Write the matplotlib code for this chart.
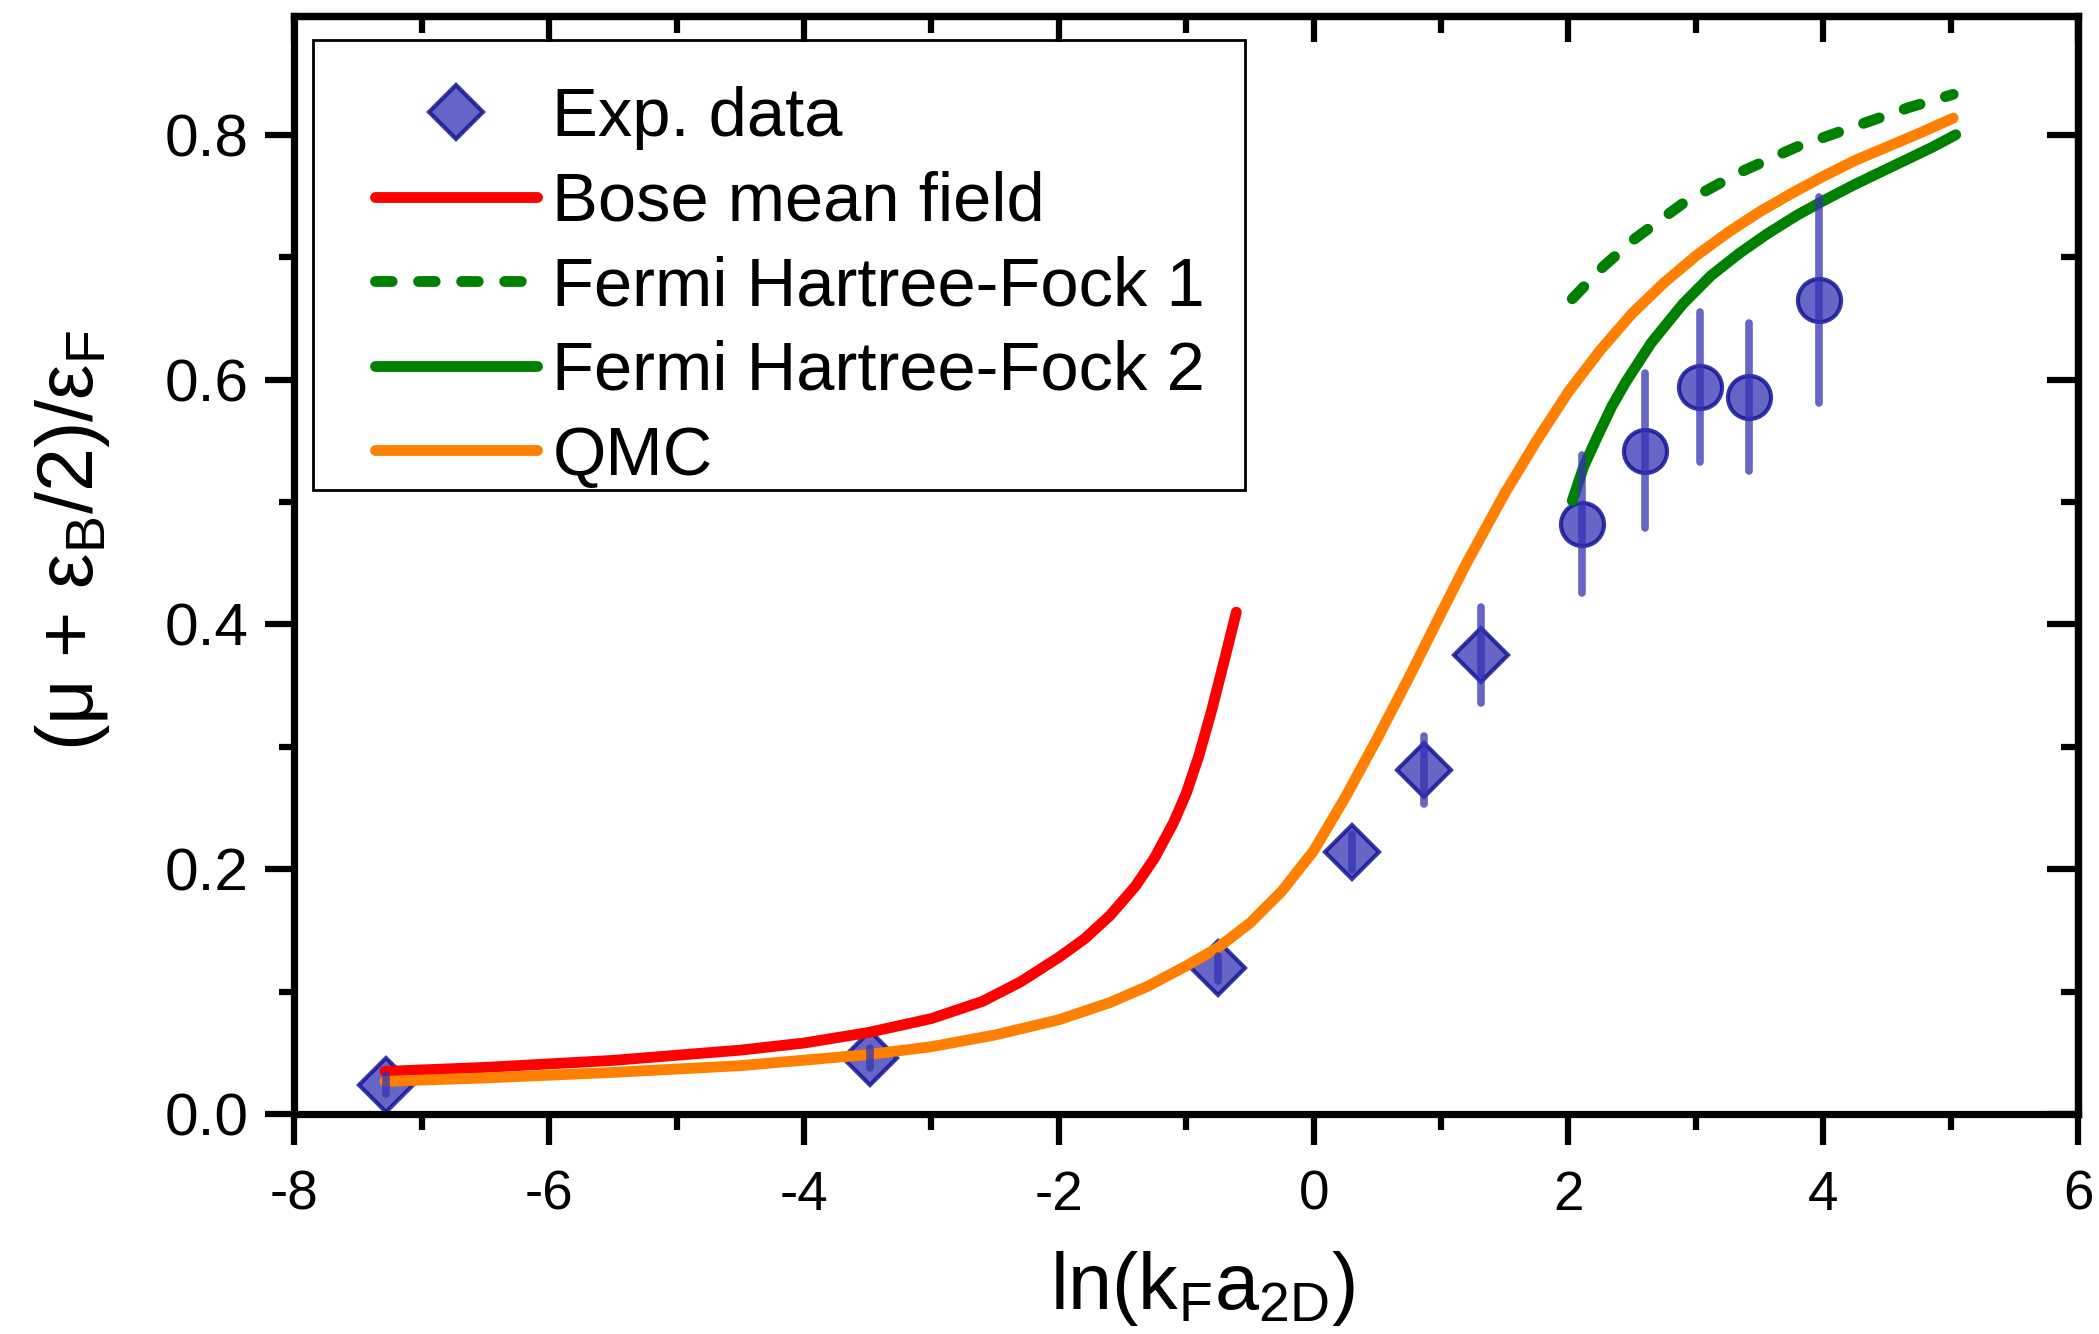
import matplotlib
matplotlib.use('Agg')
import matplotlib.pyplot as plt
from matplotlib.patches import Rectangle
from matplotlib.ticker import MultipleLocator

plt.rcParams['font.family'] = ['Liberation Sans', 'DejaVu Sans']
plt.rcParams['mathtext.fontset'] = 'custom'
plt.rcParams['mathtext.rm'] = 'Liberation Sans'
plt.rcParams['mathtext.it'] = 'Liberation Sans:italic'
plt.rcParams['mathtext.default'] = 'regular'
plt.rcParams['axes.unicode_minus'] = False
plt.rcParams['lines.scale_dashes'] = False

# ---------------- data ----------------
exp_diamond_x = [-7.28, -3.48, -0.75, 0.30, 0.87, 1.31]
exp_diamond_y = [0.024, 0.046, 0.119, 0.214, 0.281, 0.375]
exp_diamond_err = [0.008, 0.008, 0.010, 0.015, 0.028, 0.039]

exp_circle_x = [2.11, 2.60, 3.03, 3.42, 3.97]
exp_circle_y = [0.482, 0.542, 0.594, 0.586, 0.665]
exp_circle_err = [0.056, 0.0635, 0.0615, 0.0605, 0.084]

bose_x = [-7.29, -6.5, -5.5, -4.5, -4.0, -3.5, -3.0, -2.6, -2.3, -2.0,
          -1.8, -1.6, -1.4, -1.25, -1.1, -1.0, -0.9, -0.8, -0.7, -0.607]
bose_y = [0.0348, 0.0381, 0.0438, 0.0522, 0.058, 0.0665, 0.078, 0.092, 0.108, 0.128,
          0.143, 0.162, 0.186, 0.209, 0.238, 0.262, 0.293, 0.330, 0.371, 0.410]

qmc_x = [-7.29, -6.5, -5.5, -4.5, -3.5, -3.0, -2.5, -2.0, -1.6, -1.3,
         -1.0, -0.75, -0.5, -0.25, 0.0, 0.25, 0.5, 0.75, 1.0, 1.2,
         1.5, 1.75, 2.0, 2.25, 2.5, 2.75, 3.0, 3.25, 3.5, 3.75,
         4.0, 4.25, 4.5, 4.75, 5.02]
qmc_y = [0.0267, 0.0295, 0.0340, 0.0395, 0.0485, 0.055, 0.0646, 0.077, 0.091, 0.1045,
         0.121, 0.136, 0.156, 0.182, 0.215, 0.259, 0.307, 0.357, 0.409, 0.450,
         0.507, 0.550, 0.590, 0.624, 0.654, 0.679, 0.701, 0.720, 0.737, 0.752,
         0.766, 0.779, 0.790, 0.801, 0.8136]

hf1_x = [2.03, 2.27, 2.52, 2.90, 3.34, 3.79, 4.24, 4.68, 5.02]
hf1_y = [0.666, 0.692, 0.715, 0.744, 0.769, 0.790, 0.8065, 0.8225, 0.833]

hf2_x = [2.03, 2.12, 2.23, 2.34, 2.45, 2.65, 2.90, 3.12, 3.34, 3.56, 3.79, 4.0,
         4.24, 4.46, 4.68, 4.86, 5.04]
hf2_y = [0.501, 0.529, 0.554, 0.578, 0.598, 0.630, 0.662, 0.685, 0.703, 0.719, 0.734, 0.746,
         0.759, 0.770, 0.781, 0.790, 0.800]

x_ticks = [-8, -6, -4, -2, 0, 2, 4, 6]
y_ticks = [0.0, 0.2, 0.4, 0.6, 0.8]

# ---------------- figure ----------------
fig = plt.figure(figsize=(20.99, 13.34), dpi=100)
ax = fig.add_axes([0.1403, 0.1649, 0.8497, 0.8231])

face = (0.2, 0.2, 0.7, 0.75)
edge = (0.08, 0.08, 0.6, 0.85)

ax.plot(exp_diamond_x, exp_diamond_y, ls='none', marker='D', ms=27, mfc=face, mec=edge,
        mew=3, label='Exp. data', zorder=2)
ax.plot(exp_circle_x, exp_circle_y, ls='none', marker='o', ms=31, mfc=face, mec=edge,
        mew=3, zorder=2)

lw = 7.8
ax.plot(bose_x, bose_y, color='#ff0000', lw=lw, solid_capstyle='round',
        solid_joinstyle='round', label='Bose mean field', zorder=3)
ax.plot(hf1_x, hf1_y, color='#008000', lw=lw, ls=(0, (12, 19)), dash_capstyle='round',
        label='Fermi Hartree-Fock 1', zorder=3)
ax.plot(hf2_x, hf2_y, color='#008000', lw=lw, solid_capstyle='round',
        solid_joinstyle='round', label='Fermi Hartree-Fock 2', zorder=3)
ax.plot(qmc_x, qmc_y, color='#ff8000', lw=lw, solid_capstyle='round',
        solid_joinstyle='round', label='QMC', zorder=3)

for xs, ys, es in [(exp_diamond_x, exp_diamond_y, exp_diamond_err),
                   (exp_circle_x, exp_circle_y, exp_circle_err)]:
    eb = ax.errorbar(xs, ys, yerr=es, fmt='none', ecolor=face, elinewidth=5.5,
                     capsize=0, zorder=4)
    eb[2][0].set_capstyle('round')

ax.set_xlim(-8, 6)
ax.set_ylim(0, 0.897)
ax.set_xticks(x_ticks)
ax.set_yticks(y_ticks)
ax.xaxis.set_minor_locator(MultipleLocator(1))
ax.yaxis.set_minor_locator(MultipleLocator(0.1))

for s in ax.spines.values():
    s.set_linewidth(5.2)

ax.tick_params(axis='x', which='major', direction='out', length=22, width=4.5,
               labelsize=39.5, pad=18)
ax.tick_params(axis='x', which='minor', direction='out', length=11.5, width=4.5)
ax.tick_params(axis='y', which='major', direction='out', length=21, width=4.5,
               labelsize=43.5, pad=12)
ax.tick_params(axis='y', which='minor', direction='out', length=11, width=4.5)

secx = ax.secondary_xaxis('top')
secx.set_xticks(x_ticks)
secx.xaxis.set_minor_locator(MultipleLocator(1))
secx.tick_params(which='major', direction='in', length=19, width=4.5, labeltop=False)
secx.tick_params(which='minor', direction='in', length=12, width=4.5)
secx.spines['top'].set_linewidth(5.2)

secy = ax.secondary_yaxis('right')
secy.set_yticks(y_ticks)
secy.yaxis.set_minor_locator(MultipleLocator(0.1))
secy.tick_params(which='major', direction='in', length=22, width=4.5, labelright=False)
secy.tick_params(which='minor', direction='in', length=12, width=4.5)
secy.spines['right'].set_linewidth(5.2)

ax.set_xlabel('ln(k$_F$a$_{2D}$)', fontsize=57)
ax.xaxis.set_label_coords(0.509, -0.123)
ax.set_ylabel('(μ + ε$_B$/2)/ε$_F$', fontsize=57)
ax.yaxis.set_label_coords(-0.1023, 0.522)

leg = ax.legend(loc='upper left', bbox_to_anchor=(375 / 2099, 1 - 86 / 1334),
                bbox_transform=fig.transFigure, frameon=False, fontsize=49.5,
                handlelength=2.36, handletextpad=0.22, borderpad=0, borderaxespad=0,
                labelspacing=0.30, numpoints=1)

fig.add_artist(Rectangle((313 / 2099, 1 - 490 / 1334), (1245 - 313) / 2099, 450 / 1334,
                         transform=fig.transFigure, fill=False, lw=2, ec='black'))

fig.savefig('out.png', dpi=100)
